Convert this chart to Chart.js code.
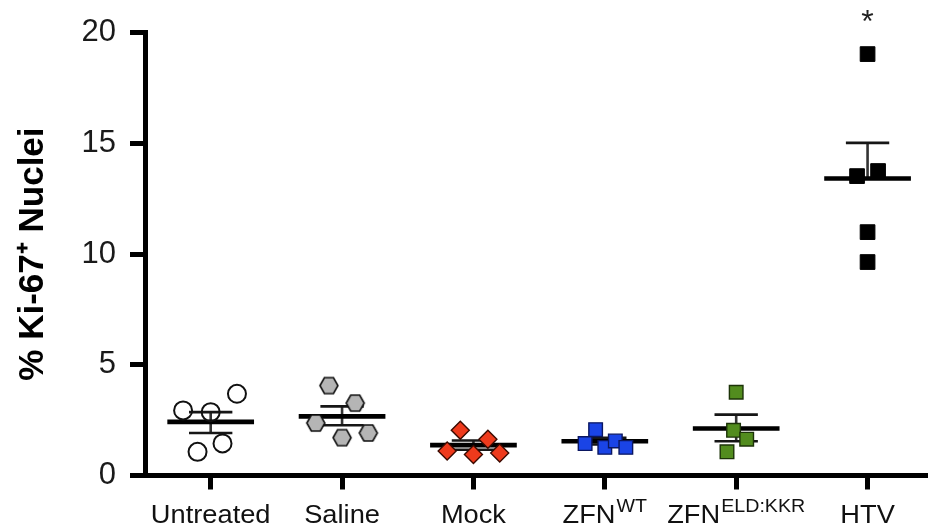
<!DOCTYPE html>
<html><head><meta charset="utf-8">
<script src="https://cdn.jsdelivr.net/npm/chart.js@4"></script>
<style>html,body{margin:0;padding:0;background:#fff}canvas{display:block}</style>
</head><body>
<canvas id="c" width="928" height="529"></canvas>
<script>
// ---- data ----
const categories = ['Untreated', 'Saline', 'Mock', 'ZFN', 'ZFN', 'HTV'];
const categorySup = ['', '', '', 'WT', 'ELD:KKR', ''];
const categoryPos = [1, 2, 3, 4, 5, 6];
const yTicks = [0, 5, 10, 15, 20];
const yTitle = '% Ki-67\u207A Nuclei';

const untreated = [2.94, 2.86, 3.69, 1.45, 1.07];
const saline    = [4.06, 3.27, 2.37, 1.71, 1.92];
const mock      = [2.04, 1.64, 1.11, 0.95, 1.02];
const zfnWT     = [2.07, 1.44, 1.27, 1.56, 1.27];
const zfnELDKKR = [3.76, 2.04, 1.64, 1.07];
const htv       = [19.03, 13.52, 13.75, 10.99, 9.64];

// horizontal scatter spread of the points within each column (category units)
const untreatedJitter = [-0.21, 0.0, 0.2, 0.09, -0.1];
const salineJitter    = [-0.1, 0.1, -0.2, 0.0, 0.2];
const mockJitter      = [-0.1, 0.11, -0.2, 0.0, 0.2];
const zfnWTJitter     = [-0.07, -0.15, 0.0, 0.08, 0.16];
const zfnELDKKRJitter = [0.0, -0.02, 0.08, -0.07];
const htvJitter       = [0.0, -0.08, 0.08, 0.0, 0.0];

const groupMeans = [2.42, 2.67, 1.37, 1.55, 2.12, 13.41];
const errUpper   = [2.86, 3.12, 1.58, 1.70, 2.75, 15.02];
const errLower   = [1.92, 2.27, 1.16, 1.40, 1.55, null];
const significance = ['', '', '', '', '', '*'];

// ---- styles ----
const FONT = "'Liberation Sans', Arial, Helvetica, sans-serif";
const MEAN_HALF = 0.33, CAP_HALF = 0.165;

function hexImage(w, h, fill, stroke, lw) {
  const c = document.createElement('canvas');
  c.width = Math.ceil(w + lw * 2); c.height = Math.ceil(h + lw * 2);
  const g = c.getContext('2d');
  const cx = c.width / 2, cy = c.height / 2;
  g.beginPath();
  g.moveTo(cx - w / 2, cy);
  g.lineTo(cx - w / 4, cy - h / 2);
  g.lineTo(cx + w / 4, cy - h / 2);
  g.lineTo(cx + w / 2, cy);
  g.lineTo(cx + w / 4, cy + h / 2);
  g.lineTo(cx - w / 4, cy + h / 2);
  g.closePath();
  g.fillStyle = fill; g.fill();
  g.lineWidth = lw; g.strokeStyle = stroke; g.stroke();
  return c;
}
const hexStyle = hexImage(18, 16, '#b5b5b5', '#111', 1.6);

function pts(vals, jit, pos) { return vals.map((v, i) => ({x: pos + jit[i], y: v})); }

const groups = [
  {vals: untreated, jit: untreatedJitter, style: 'circle', r: 9, bg: 'rgba(255,255,255,0)', bc: '#111', bw: 2},
  {vals: saline, jit: salineJitter, style: hexStyle, r: 9, bg: '#b5b5b5', bc: '#111', bw: 1.6},
  {vals: mock, jit: mockJitter, style: 'rectRot', r: 9, bg: '#ee3a1c', bc: '#3a0a00', bw: 1.4},
  {vals: zfnWT, jit: zfnWTJitter, style: 'rect', r: 9.6, bg: '#1a44e6', bc: '#0a1660', bw: 1.4},
  {vals: zfnELDKKR, jit: zfnELDKKRJitter, style: 'rect', r: 9.6, bg: '#528c1e', bc: '#1c3308', bw: 1.4},
  {vals: htv, jit: htvJitter, style: 'rect', r: 10.4, bg: '#000', bc: '#000', bw: 1}
];

const datasets = groups.map((g, i) => ({
  type: 'scatter',
  label: categories[i] + categorySup[i],
  data: pts(g.vals, g.jit, categoryPos[i]),
  pointStyle: g.style, pointRadius: g.r, pointHoverRadius: g.r,
  backgroundColor: g.bg, borderColor: g.bc, pointBorderWidth: g.bw, borderWidth: g.bw,
  order: 0
}));

const meanData = [];
const capData = [];
const stemData = [];
categoryPos.forEach((p, i) => {
  meanData.push({x: p - MEAN_HALF, y: groupMeans[i]}, {x: p + MEAN_HALF, y: groupMeans[i]}, {x: p + MEAN_HALF, y: null});
  capData.push({x: p - CAP_HALF, y: errUpper[i]}, {x: p + CAP_HALF, y: errUpper[i]}, {x: p + CAP_HALF, y: null});
  stemData.push({x: p, y: errUpper[i]}, {x: p, y: errLower[i] === null ? groupMeans[i] : errLower[i]}, {x: p, y: null});
  if (errLower[i] !== null) {
    capData.push({x: p - CAP_HALF, y: errLower[i]}, {x: p + CAP_HALF, y: errLower[i]}, {x: p + CAP_HALF, y: null});
  }
});
const lineDs = (data, color, w, order) => ({
  type: 'scatter', data, showLine: true, spanGaps: false, borderColor: color, borderWidth: w,
  pointRadius: 0, pointHoverRadius: 0, tension: 0, borderCapStyle: 'butt', order
});
datasets.push(lineDs(stemData, '#333', 2.6, 3));
datasets.push(lineDs(capData, '#161616', 2.6, 2));
datasets.push(lineDs(meanData, '#000', 4.6, 1));

const labelPlugin = {
  id: 'richLabels',
  afterDraw(chart) {
    const ctx = chart.ctx;
    const xs = chart.scales.x, ys = chart.scales.y;
    ctx.save();
    ctx.fillStyle = '#111';
    ctx.textBaseline = 'alphabetic';
    const baseY = xs.top + 47;
    const SX = 1.09;
    categoryPos.forEach((p, i) => {
      const px = xs.getPixelForValue(p);
      ctx.font = '25px ' + FONT;
      const w1 = ctx.measureText(categories[i]).width;
      ctx.font = '18px ' + FONT;
      const w2 = categorySup[i] ? ctx.measureText(categorySup[i]).width + 1 : 0;
      const total = (w1 + w2) * SX;
      ctx.save();
      ctx.translate(px - total / 2, baseY);
      ctx.scale(SX, 1);
      ctx.textAlign = 'left';
      ctx.font = '25px ' + FONT;
      ctx.fillText(categories[i], 0, 0);
      if (categorySup[i]) {
        ctx.font = '18px ' + FONT;
        ctx.fillText(categorySup[i], w1 + 1, -10.5);
      }
      ctx.restore();
      if (significance[i]) {
        ctx.font = '32px ' + FONT;
        ctx.textAlign = 'center';
        ctx.fillStyle = '#222';
        ctx.fillText(significance[i], px, ys.top - 1);
      }
    });
    ctx.restore();
  }
};

new Chart(document.getElementById('c'), {
  type: 'scatter',
  data: {datasets},
  options: {
    responsive: false, animation: false, events: [],
    layout: {autoPadding: false, padding: {top: 30, right: 0, bottom: 0, left: 0}},
    plugins: {legend: {display: false}, tooltip: {enabled: false}},
    scales: {
      x: {
        type: 'linear', min: 0.5, max: 6.46,
        afterBuildTicks: s => { s.ticks = categoryPos.map(v => ({value: v})); },
        afterFit: s => { s.height = 53.5; },
        ticks: {display: false},
        grid: {display: true, drawOnChartArea: false, drawTicks: true, tickLength: 14, tickWidth: 5, tickColor: '#000', color: '#000', lineWidth: 5},
        border: {display: true, width: 5, color: '#000'}
      },
      y: {
        type: 'linear', min: 0, max: 20,
        afterBuildTicks: s => { s.ticks = yTicks.map(v => ({value: v})); },
        afterFit: s => { s.width = 145; },
        ticks: {color: '#1a1a1a', padding: 14, font: {family: FONT, size: 31}},
        grid: {display: true, drawOnChartArea: false, drawTicks: true, tickLength: 15, tickWidth: 5, tickColor: '#000', color: '#000', lineWidth: 5},
        border: {display: true, width: 5, color: '#000'},
        title: {display: true, text: yTitle, color: '#000', padding: {top: 12, bottom: 0}, font: {family: FONT, size: 35, weight: 'bold'}}
      }
    }
  },
  plugins: [labelPlugin]
});
</script>
</body></html>
